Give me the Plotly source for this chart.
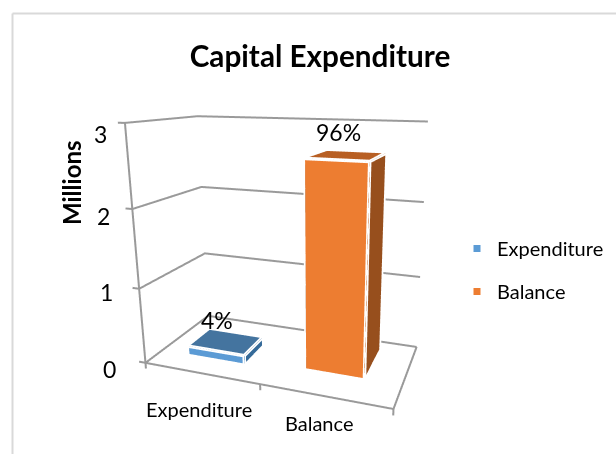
import plotly.graph_objects as go

categories = ["Expenditure", "Balance"]
values = [0.11, 2.62]
percent_labels = ["4%", "96%"]
z_ticks = [0, 1, 2, 3]
legend_names = ["Expenditure", "Balance"]
front_colors = ["#5B9BD5", "#ED7D31"]
top_colors = ["#44749F", "#B85F23"]
side_colors = ["#356A99", "#974F1D"]

X_RANGE = [-0.15, 2.05]
Y_RANGE = [-0.15, 1.05]
Z_RANGE = [-0.2, 3.1]
BAR_X = [(0.25, 0.75), (1.24, 1.71)]
BAR_Y = [(0.25, 0.59), (0.34, 0.85)]
TICK_SHIFT = [(-36, -6), (-33, -3), (-29, -7), (-25, -11)]
CAT_SHIFT = [(-2, -36), (-5, -27)]
PCT_SHIFT = [(-9, 22), (-8, 24)]

EYE = [1.0011506712467495, -2.272804917561408, 0.7459449391285848]
CENTER = [0.20721042819077928, 0.11016380675823845, 0.10135385835620248]
UP = [-0.0821288716721371, 0.23464395215078723, 0.9686057320483504]
ASPECT = [1.275676676339649 * 2.2 / 2.1, 0.6513560602444168 * 1.2 / 1.1, 1.18 * 3.3 / 3.1]
DOM_X = [33.2 / 616, 1]

GRID = "#9A9A9A"
FONT = "Lato"

tri = [(0,1,5),(0,5,4),(4,5,6),(4,6,7),(1,2,6),(1,6,5),(3,0,4),(3,4,7),(2,3,7),(2,7,6),(0,2,1),(0,3,2)]
seq = [0,1,5,4,0,None,4,7,6,5,None,1,2,6]

def cuboid(i):
    x0, x1 = BAR_X[i]
    y0, y1 = BAR_Y[i]
    h = values[i]
    return [x0,x1,x1,x0,x0,x1,x1,x0],[y0,y0,y1,y1,y0,y0,y1,y1],[0,0,0,0,h,h,h,h]

def pick(v):
    return [v[a] if a is not None else None for a in seq]

fig = go.Figure()
gx, gy, gz = [], [], []
for v in z_ticks:
    gx += [-0.06,0,0,2,None]; gy += [0,0,1,1,None]; gz += [v,v,v,v,None]
gx += [0,0,None,0,2,2,None]; gy += [0,0,None,0,0,1,None]; gz += [0,max(z_ticks),None,0,0,0,None]
for t in [0,1,2]:
    gx += [t,t,None]; gy += [0,0,None]; gz += [0,-0.08,None]
fig.add_trace(go.Scatter3d(x=gx,y=gy,z=gz,mode="lines",line=dict(color=GRID,width=4),showlegend=False,hoverinfo="skip"))
for i, n in enumerate(legend_names):
    vx, vy, vz = cuboid(i)
    fc = [front_colors[i]]*2+[top_colors[i]]*2+[side_colors[i]]*8
    fig.add_trace(go.Mesh3d(x=vx,y=vy,z=vz,i=[t[0] for t in tri],j=[t[1] for t in tri],k=[t[2] for t in tri],facecolor=fc,flatshading=True,
        lighting=dict(ambient=1,diffuse=0,specular=0,roughness=1,fresnel=0),showlegend=False,hoverinfo="skip"))
    fig.add_trace(go.Scatter3d(x=pick(vx),y=pick(vy),z=pick(vz),mode="lines",line=dict(color="white",width=7),showlegend=False,hoverinfo="skip"))
    fig.add_trace(go.Scatter3d(x=[None],y=[None],z=[None],mode="markers",name=n,legendgroup=n,
        marker=dict(symbol="square",size=7,color=front_colors[i])))
ann = []
for v, (dx, dy) in zip(z_ticks, TICK_SHIFT):
    ann.append(dict(x=0,y=0,z=v,text=str(v),showarrow=False,xshift=dx,yshift=dy,font=dict(size=23,color="#000",family=FONT)))
for i, n in enumerate(categories):
    ann.append(dict(x=i+0.5,y=0,z=0,text=n,showarrow=False,xshift=CAT_SHIFT[i][0],yshift=CAT_SHIFT[i][1],font=dict(size=20,color="#000",family=FONT)))
    ann.append(dict(x=sum(BAR_X[i])/2,y=sum(BAR_Y[i])/2,z=values[i],text=percent_labels[i],showarrow=False,xshift=PCT_SHIFT[i][0],yshift=PCT_SHIFT[i][1],font=dict(size=23,color="#000",family=FONT)))
ax = dict(visible=False,showgrid=False,zeroline=False,showspikes=False,autorange=False)
fig.update_layout(width=616,height=454,margin=dict(l=0,r=0,t=0,b=0),paper_bgcolor="white",
    font=dict(family=FONT),
    title=dict(text="<b>Capital Expenditure</b>",x=320/616,xanchor="center",y=1-57/454,yanchor="middle",font=dict(size=29.7,color="#000",family=FONT)),
    scene=dict(domain=dict(x=DOM_X,y=[0,1]),
        xaxis=dict(ax,range=X_RANGE),yaxis=dict(ax,range=Y_RANGE),zaxis=dict(ax,range=Z_RANGE),
        aspectmode="manual",aspectratio=dict(x=ASPECT[0],y=ASPECT[1],z=ASPECT[2]),
        camera=dict(eye=dict(x=EYE[0],y=EYE[1],z=EYE[2]),center=dict(x=CENTER[0],y=CENTER[1],z=CENTER[2]),up=dict(x=UP[0],y=UP[1],z=UP[2]),projection=dict(type="perspective")),
        annotations=ann),
    legend=dict(x=457/616,y=1-229/454,xanchor="left",yanchor="top",tracegroupgap=14,font=dict(size=20,color="#000",family=FONT),bgcolor="rgba(0,0,0,0)"),
    annotations=[dict(xref="paper",yref="paper",x=71/616,y=1-183/454,xanchor="center",yanchor="middle",text="<b>Millions</b>",textangle=-90,showarrow=False,font=dict(size=24,color="#000",family=FONT))],
    shapes=[dict(type="line",xref="paper",yref="paper",x0=12.5/616,x1=1,y0=1-13.5/454,y1=1-13.5/454,line=dict(color="#D9D9D9",width=2)),
            dict(type="line",xref="paper",yref="paper",x0=12.5/616,x1=12.5/616,y0=1-13.5/454,y1=0,line=dict(color="#D9D9D9",width=2))])
fig.write_html("out.html", config=dict(displayModeBar=False), post_script="document.body.style.margin='0';")
